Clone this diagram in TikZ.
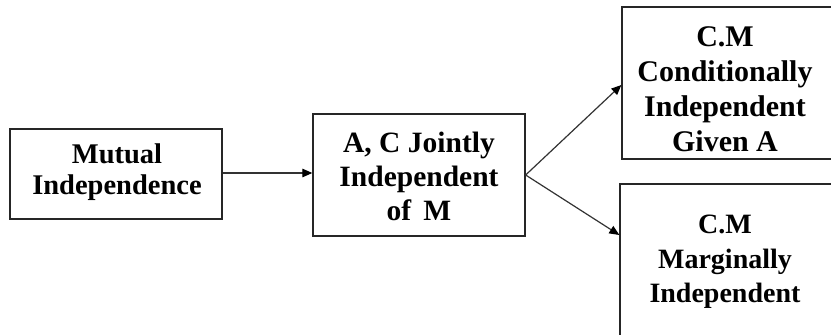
\documentclass[tikz,border=0pt]{standalone}
\usepackage{fontspec}
\setmainfont{Liberation Serif}
\usetikzlibrary{arrows.meta}
\begin{document}
\begin{tikzpicture}[x=1pt,y=-1pt,
  box/.style={draw=black!85,line width=1.3pt,rectangle,inner sep=0pt},
  txt/.style={align=center,inner sep=0pt},
  arr/.style={draw=black!80,line width=1.2pt,-{Triangle[length=10pt,width=8.5pt,color=black]}}]
\clip (0,0) rectangle (831,335);
\fill[white] (0,0) rectangle (831,335);
\node[box,minimum width=212pt,minimum height=90pt] (b1) at (116,174) {};
\node[txt,font=\bfseries\fontsize{28.5}{31}\selectfont] (t1) at (117,172) {Mutual\\Independence};
\node[box,minimum width=212pt,minimum height=122pt] (b2) at (419,175) {};
\node[txt,font=\bfseries\fontsize{29.5}{34}\selectfont] (t2) at (419,176) {A, C Jointly\\Independent\\of\ \,M};
\node[box,minimum width=228pt,minimum height=152pt] (b3) at (736,83) {};
\node[txt,font=\bfseries\fontsize{30}{35}\selectfont] (t3) at (725,89) {C.M\\Conditionally\\Independent\\Given A};
\node[box,minimum width=230pt,minimum height=154pt] (b4) at (735,261) {};
\node[txt,font=\bfseries\fontsize{28}{34.5}\selectfont] (t4) at (725,262) {C.M\\Marginally\\Independent};
\draw[arr] ([yshift=1pt]b1.east) -- ([yshift=1pt]b1.east -| b2.west);
\draw[arr] (b2.east) -- ([yshift=-2pt]b3.west);
\draw[arr] (b2.east) -- ([yshift=26pt]b4.west);
\end{tikzpicture}
\end{document}
